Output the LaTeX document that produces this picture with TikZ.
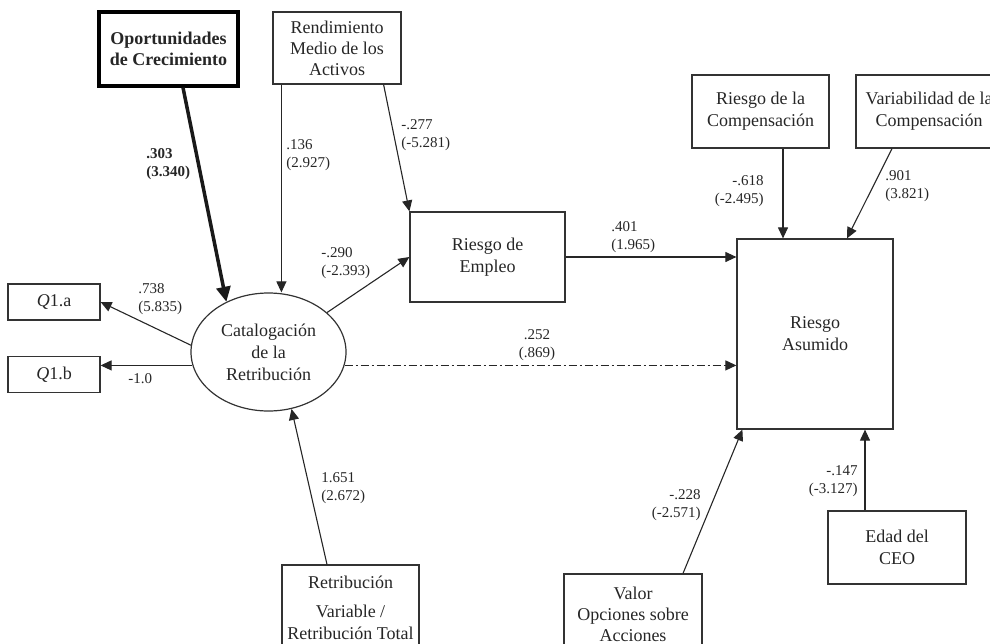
\documentclass[tikz,border=0pt]{standalone}
\usepackage{fontspec}
\setmainfont{Liberation Serif}
\usetikzlibrary{arrows.meta,shapes.geometric}

\begin{document}
\begin{tikzpicture}[
				x=0.5pt, y=-0.5pt,
				box/.style={rectangle, draw=black!80, line width=0.6pt, inner sep=0pt,
					align=center, text=black!85, font=\fontsize{9}{11}\selectfont},
				coef/.style={inner sep=0pt, text=black!85, font=\fontsize{7.5}{9}\selectfont},
				arrow/.style={-{Triangle[length=5.5pt,width=5pt]}, line width=0.55pt, draw=black!85},
				thickarrow/.style={-{Triangle[length=7.5pt,width=7pt]}, line width=1.75pt, draw=black!90},
				dashdot/.style={dash pattern=on 4pt off 1.5pt on 1pt off 1.5pt}
				]
				\useasboundingbox (0,0) rectangle (990,643);
				% variables
				\node[box, line width=1.6pt, draw=black, font=\bfseries\fontsize{9}{10.5}\selectfont,
					minimum width=69.5pt, minimum height=37pt] (opor) at (168.5,49)
				{Oportunidades\\de Crecimiento};
				\node[box, minimum width=64pt, minimum height=36pt, font=\fontsize{9}{10.5}\selectfont] (rendim) at (337,48)
				{Rendimiento\\Medio de los\\Activos};
				\node[box, minimum width=68.5pt, minimum height=36.5pt] (rcomp) at (760.5,111.5)
				{Riesgo de la\\Compensación};
				\node[box, minimum width=73pt, minimum height=36.5pt] (vcomp) at (929,111.5)
				{Variabilidad de la\\Compensación};
				\node[box, minimum width=77.5pt, minimum height=45pt] (rempleo) at (487.5,257)
				{Riesgo de\\Empleo};
				\node[box, minimum width=78pt, minimum height=95pt] (rasum) at (815,334)
				{Riesgo\\Asumido};
				\node[box, minimum width=46pt, minimum height=18pt] (q1a) at (54,302) {\textit{Q}1.a};
				\node[box, minimum width=46pt, minimum height=18pt] (q1b) at (54,374.5) {\textit{Q}1.b};
				\node[box, ellipse, minimum width=77.5pt, minimum height=59pt] (catal) at (268.5,352)
				{Catalogación\\de la\\Retribución};
				\node[box, minimum width=68.5pt, minimum height=43pt] (retrib) at (350.5,608)
				{Retribución\\[3.5pt]Variable /\\Retribución Total};
				\node[box, minimum width=69pt, minimum height=40pt, font=\fontsize{9}{10.5}\selectfont] (valor) at (633,614)
				{Valor\\Opciones sobre\\Acciones};
				\node[box, minimum width=69pt, minimum height=36.5pt] (edad) at (897,547.5)
				{Edad del\\CEO};
				% paths
				\coordinate (rendout) at ([xshift=4.5pt]rendim.south west);
				\coordinate (rcompout) at ([xshift=11.25pt]rcomp.south);
				\coordinate (edadout) at ([xshift=-16pt]edad.north);
				\draw[thickarrow] ([xshift=7.25pt]opor.south) -- (catal.130);
				\draw[arrow] (rendout) -- (rendout |- catal.north);
				\draw[arrow] ([xshift=-9pt]rendim.south east) -- (rempleo.north west);
				\draw[arrow] (catal.34) -- (rempleo.west);
				\draw[arrow] (catal.175) -- (q1a.east);
				\draw[arrow] (catal.190) -- (catal.190 -| q1b.east);
				\draw[arrow, dashdot] (catal.350) -- (catal.350 -| rasum.west);
				\draw[arrow] (rempleo.east) -- (rempleo.east -| rasum.west);
				\draw[arrow] (rcompout) -- (rcompout |- rasum.north);
				\draw[arrow] ([xshift=-18.5pt]vcomp.south) -- ([xshift=16pt]rasum.north);
				\draw[arrow] ([xshift=25pt]valor.north) -- ([xshift=3pt]rasum.south west);
				\draw[arrow] (edadout) -- (edadout |- rasum.south);
				\draw[arrow] ([xshift=-11.75pt]retrib.north) -- (catal.292);
				% coefficients
				\node[coef, anchor=west, align=left, font=\bfseries\fontsize{7.5}{9}\selectfont] (copor) at (146,164) {.303\\(3.340)};
				\node[coef, anchor=west, align=left] (crendcat) at (286,155) {.136\\(2.927)};
				\node[coef, anchor=west, align=left] (crendemp) at (401,135) {-.277\\(-5.281)};
				\node[coef, anchor=east, align=right] (crcomp) at (764,191.5) {-.618\\(-2.495)};
				\node[coef, anchor=west, align=left] (cvcomp) at (885,186) {.901\\(3.821)};
				\node[coef, anchor=west, align=left] (cempleo) at (611,237) {.401\\(1.965)};
				\node[coef, anchor=west, align=left] (ccatemp) at (321,263.5) {-.290\\(-2.393)};
				\node[coef, anchor=west, align=left] (cq1a) at (138,299.5) {.738\\(5.835)};
				\node[coef, anchor=west] (cq1b) at (128,379) {-1.0};
				\node[coef, align=center] (ccatasum) at (537,345.5) {.252\\(.869)};
				\node[coef, anchor=west, align=left] (cretrib) at (321,488.5) {1.651\\(2.672)};
				\node[coef, anchor=east, align=right] (cvalor) at (701,505.5) {-.228\\(-2.571)};
				\node[coef, anchor=east, align=right] (cedad) at (858,481.5) {-.147\\(-3.127)};
			\end{tikzpicture}
\end{document}
